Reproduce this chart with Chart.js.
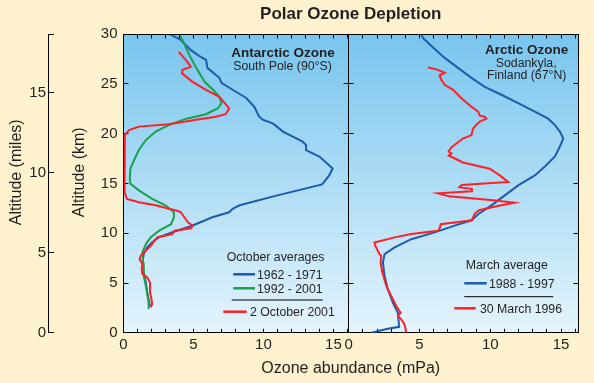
<!DOCTYPE html>
<html>
<head>
<meta charset="utf-8">
<script src="https://cdn.jsdelivr.net/npm/chart.js@4/dist/chart.umd.min.js"></script>
<style>
  html, body { margin: 0; padding: 0; background: #FDF1CE; }
  #wrap { width: 594px; height: 383px; position: relative; }
  canvas { display: block; }
</style>
</head>
<body>
<div id="wrap"><canvas id="chart" width="594" height="383"></canvas></div>
<script>
// ---------------- data ----------------
// Antarctic, South Pole: October average 1962-1971
const ANT_1962_OZONE = [3.3, 4.1, 4.8, 5.4, 5.9, 6.0, 6.85, 7.0, 7.8, 8.75, 9.35, 9.7, 9.95, 10.7, 11.4, 12.8, 13.05, 13.05, 14.0, 14.95, 14.7, 14.2, 11.0, 8.3, 7.8, 7.55, 6.35, 4.9, 3.5, 2.55, 2.05, 1.7, 1.45, 1.35, 1.45, 1.6, 1.7, 1.85, 1.9];
const ANT_1962_ALT   = [30, 29.4, 28.4, 27.8, 27.4, 26.6, 25.6, 25.1, 24.4, 23.6, 22.7, 21.7, 21.4, 21.0, 20.2, 19.2, 18.85, 18.35, 17.7, 16.5, 15.8, 14.9, 13.8, 12.8, 12.45, 12.1, 11.6, 10.75, 10.1, 9.6, 9.1, 8.57, 7.9, 7.05, 6.05, 5.04, 4.03, 3.0, 2.7];
// Antarctic: October average 1992-2001
const ANT_1992_OZONE = [3.95, 4.25, 4.7, 5.2, 5.8, 6.4, 6.85, 7.0, 6.75, 5.9, 4.5, 3.3, 2.3, 1.6, 1.1, 0.75, 0.5, 0.45, 0.5, 1.1, 2.05, 3.0, 3.6, 3.6, 3.4, 2.55, 1.95, 1.6, 1.35, 1.4, 1.45, 1.65, 1.8, 1.8];
const ANT_1992_ALT   = [30, 29.3, 27.9, 26.6, 25.2, 24.4, 23.7, 23.05, 22.55, 21.95, 21.5, 20.9, 20.2, 19.35, 18.35, 17.3, 16.5, 15.5, 14.96, 14.3, 13.45, 12.8, 12.1, 11.6, 10.9, 10.25, 9.6, 8.9, 8.06, 7.05, 5.7, 4.37, 3.0, 2.4];
// Antarctic: 2 October 2001
const ANT_2001_OZONE = [3.95, 4.45, 4.82, 4.22, 4.18, 4.94, 5.9, 6.85, 7.45, 7.55, 7.3, 6.6, 5.2, 3.25, 1.1, 0.4, 0.1, 0.08, 0.08, 0.08, 0.25, 1.1, 2.3, 3.25, 3.85, 4.1, 4.45, 4.6, 4.95, 4.85, 3.65, 3.5, 2.45, 2.2, 2.05, 1.6, 1.25, 1.15, 1.35, 1.3, 1.35, 1.7, 1.9, 1.9, 2.0, 2.05, 1.95];
const ANT_2001_ALT   = [28.2, 27.4, 26.7, 26.4, 26.05, 25.2, 24.4, 23.7, 22.7, 22.5, 21.95, 21.7, 21.4, 20.95, 20.7, 20.35, 19.85, 18.85, 15.5, 14.1, 13.45, 13.1, 12.8, 12.45, 12.25, 12.1, 11.4, 11.1, 10.75, 10.5, 10.25, 9.9, 9.6, 9.25, 8.9, 8.25, 7.75, 7.4, 6.9, 6.4, 5.9, 5.55, 5.05, 4.05, 3.4, 2.85, 2.55];
// Arctic, Sodankyla: March average 1988-1997
const ARC_AVG_OZONE = [5.13, 5.24, 5.84, 6.78, 7.72, 8.67, 9.61, 10.79, 11.97, 13.15, 14.09, 14.57, 14.92, 15.16, 14.92, 14.57, 13.86, 13.15, 11.97, 11.03, 10.08, 9.14, 8.67, 7.49, 6.07, 4.42, 3.24, 2.53, 2.41, 2.53, 2.76, 3.12, 3.47, 3.56, 2.76, 1.59];
const ARC_AVG_ALT   = [30, 29.6, 28.8, 27.6, 26.6, 25.6, 24.7, 23.9, 23.05, 22.2, 21.5, 20.85, 20.2, 19.5, 18.7, 17.7, 16.7, 15.8, 14.8, 13.8, 12.8, 11.9, 11.3, 10.76, 10.08, 9.4, 8.57, 7.9, 7.06, 5.72, 4.37, 3.0, 2.02, 0.6, 0.4, 0];
// Arctic: 30 March 1996
const ARC_1996_OZONE = [5.59, 6.30, 6.78, 6.42, 6.54, 6.78, 7.37, 7.96, 8.67, 9.14, 9.26, 9.61, 9.73, 9.26, 9.02, 8.78, 8.67, 8.07, 7.61, 7.25, 7.06, 7.25, 7.06, 8.07, 9.96, 10.67, 11.26, 8.0, 7.8, 8.7, 8.7, 6.3, 7.1, 10.2, 11.7, 10.6, 9.2, 8.9, 8.7, 7.6, 6.5, 6.4, 6.3, 4.42, 3.24, 1.82, 1.87, 2.17, 2.29, 2.25, 2.34, 2.65, 3.0, 3.36, 3.66, 3.47, 3.71, 3.94, 4.07];
const ARC_1996_ALT   = [26.65, 26.4, 26.1, 25.85, 25.4, 24.9, 24.4, 23.55, 22.7, 22.2, 21.8, 21.7, 21.5, 21.2, 20.9, 20.5, 19.85, 19.5, 19.0, 18.6, 18.2, 18.0, 17.8, 17.1, 16.47, 15.8, 15.15, 14.85, 14.6, 14.45, 14.2, 14.0, 13.7, 13.3, 13.05, 12.75, 12.3, 11.95, 11.3, 11.1, 10.9, 10.4, 10.25, 9.92, 9.58, 9.07, 8.74, 7.9, 7.73, 7.06, 6.22, 4.7, 3.7, 2.69, 2.02, 1.68, 1.35, 0.85, 0];

// ticks and labels
const X_TICK_VALUES  = [0, 1, 2, 3, 4, 5, 6, 7, 8, 9, 10, 11, 12, 13, 14, 15, 16];
const X_LABEL_VALUES = [0, 5, 10, 15];
const KM_TICK_VALUES = [0, 5, 10, 15, 20, 25, 30];
const MILE_TICK_VALUES = [0, 5, 10, 15];
const KM_PER_MILE = 1.609344;

// texts
const TITLE = 'Polar Ozone Depletion';
const X_TITLE = 'Ozone abundance (mPa)';
const Y_TITLE = 'Altitude (km)';
const Y2_TITLE = 'Altitude (miles)';
const SERIES_LABELS = ['1962 - 1971', '1992 - 2001', '2 October 2001', '1988 - 1997', '30 March 1996'];

// ---------------- styling ----------------
const FONT = "'Liberation Sans', Arial, Helvetica, sans-serif";
const TEXT = '#231F20';
const CREAM = '#FDF1CE';
const SKY_TOP = '#78C5EE';
const SKY_BOTTOM = '#E4F4FC';
const BLUE = '#1C5BAD';
const GREEN = '#17A04B';
const RED = '#FF1F26';
const XMAX_LEFT = 16.1;
const XMAX_RIGHT = 16.2;
const MILES_MAX = 30 / KM_PER_MILE;

Chart.defaults.font.family = FONT;
Chart.defaults.color = TEXT;

function pts(xs, ys) { return xs.map((x, i) => ({ x: x, y: ys[i] })); }
function series(label, xs, ys, color, xAxisID) {
  return { label, data: pts(xs, ys), xAxisID, yAxisID: 'y', borderColor: color, backgroundColor: color,
           borderWidth: 2, pointRadius: 0, showLine: true, tension: 0, fill: false };
}

const background = {
  id: 'panelBackground',
  beforeDraw(chart) {
    const { ctx, chartArea: a } = chart;
    ctx.save();
    ctx.fillStyle = CREAM;
    ctx.fillRect(0, 0, chart.width, chart.height);
    const g = ctx.createLinearGradient(0, a.top, 0, a.bottom);
    g.addColorStop(0, SKY_TOP);
    g.addColorStop(1, SKY_BOTTOM);
    ctx.fillStyle = g;
    ctx.fillRect(a.left, a.top, a.right - a.left, a.bottom - a.top);
    ctx.restore();
  }
};

const al = (p) => Math.round(p - 0.5) + 0.5;

const frame = {
  id: 'frameTicks',
  afterDatasetsDraw(chart) {
    const { ctx, chartArea: a, scales } = chart;
    ctx.save();
    ctx.strokeStyle = '#000';
    ctx.lineWidth = 1;
    ctx.beginPath();
    const top = al(a.top), right = al(a.right), div = al(scales.x2.left);
    ctx.moveTo(a.left, top); ctx.lineTo(a.right + 0.5, top);
    ctx.moveTo(right, a.top); ctx.lineTo(right, a.bottom);
    ctx.moveTo(div, a.top); ctx.lineTo(div, a.bottom);
    for (const id of ['x', 'x2']) {
      const s = scales[id];
      for (const v of X_TICK_VALUES) {
        if (v > s.max) continue;
        const px = al(s.getPixelForValue(v));
        ctx.moveTo(px, top); ctx.lineTo(px, top + 4);
      }
    }
    for (const v of KM_TICK_VALUES) {
      if (v === 0 || v === 30) continue;
      const py = al(scales.y.getPixelForValue(v));
      ctx.moveTo(div - 5, py); ctx.lineTo(div + 5, py);
      ctx.moveTo(right - 5, py); ctx.lineTo(right, py);
    }
    ctx.stroke();
    ctx.restore();
  }
};

const notes = {
  id: 'panelNotes',
  afterDatasetsDraw(chart) {
    const ctx = chart.ctx;
    ctx.save();
    ctx.fillStyle = TEXT;
    ctx.textBaseline = 'alphabetic';
    const text = (s, x, y, size, bold, align) => {
      ctx.font = (bold ? 'bold ' : '') + size + 'px ' + FONT;
      ctx.textAlign = align || 'left';
      ctx.fillText(s, x, y);
    };
    const line = (x1, x2, y, color, w) => {
      ctx.strokeStyle = color; ctx.lineWidth = w;
      ctx.beginPath(); ctx.moveTo(x1, y); ctx.lineTo(x2, y); ctx.stroke();
    };
    // Antarctic panel
    text('Antarctic Ozone', 283, 56.5, 13.5, true, 'center');
    text('South Pole (90°S)', 282.5, 69.5, 12.3, false, 'center');
    text('October averages', 226.7, 260.5, 12.3);
    line(233.3, 255, 274.3, BLUE, 2.5);
    text(SERIES_LABELS[0], 257, 279, 12.3);
    line(233.3, 255, 288.3, GREEN, 2.5);
    text(SERIES_LABELS[1], 257, 293.3, 12.3);
    line(231.7, 322.7, 300, '#000', 1);
    line(223.3, 246.7, 311.7, RED, 2.5);
    text(SERIES_LABELS[2], 250, 316, 12.3);
    // Arctic panel
    text('Arctic Ozone', 526.7, 54, 13.5, true, 'center');
    text('Sodankyla,', 526.2, 66.5, 12.3, false, 'center');
    text('Finland (67°N)', 526.7, 79, 12.3, false, 'center');
    text('March average', 465.7, 268.5, 12.3);
    line(464.3, 486.7, 283.3, BLUE, 2.5);
    text(SERIES_LABELS[3], 489, 287.5, 12.3);
    line(464.3, 553.3, 296.7, '#000', 1);
    line(454.3, 475.7, 308.3, RED, 2.5);
    text(SERIES_LABELS[4], 480, 313, 12.3);
    ctx.restore();
  }
};

function xAxis(max, weight) {
  return {
    type: 'linear', axis: 'x', position: 'bottom', stack: 'ozone', stackWeight: weight,
    min: 0, max: max,
    afterBuildTicks: (ax) => { ax.ticks = X_TICK_VALUES.filter(v => v <= max).map(v => ({ value: v })); },
    ticks: { font: { size: 15 }, color: TEXT, padding: 7.2, autoSkip: false, maxRotation: 0, minRotation: 0,
             callback: (v) => X_LABEL_VALUES.includes(v) ? String(v) : '' },
    grid: { drawOnChartArea: false, drawTicks: true, tickLength: -4, tickColor: '#000', tickWidth: 1 },
    border: { display: true, color: '#000', width: 1 }
  };
}

new Chart(document.getElementById('chart'), {
  type: 'scatter',
  data: {
    datasets: [
      series(SERIES_LABELS[2], ANT_2001_OZONE, ANT_2001_ALT, RED, 'x'),
      series(SERIES_LABELS[4], ARC_1996_OZONE, ARC_1996_ALT, RED, 'x2'),
      series(SERIES_LABELS[1], ANT_1992_OZONE, ANT_1992_ALT, GREEN, 'x'),
      series(SERIES_LABELS[0], ANT_1962_OZONE, ANT_1962_ALT, BLUE, 'x'),
      series(SERIES_LABELS[3], ARC_AVG_OZONE, ARC_AVG_ALT, BLUE, 'x2')
    ]
  },
  options: {
    responsive: false,
    animation: false,
    events: [],
    devicePixelRatio: 1,
    layout: { padding: { left: 0, right: 16, top: 0, bottom: 0 } },
    plugins: {
      legend: { display: false },
      tooltip: { enabled: false },
      title: { display: true, text: TITLE, fullSize: false, color: TEXT,
               font: { size: 17, weight: 'bold' }, padding: { top: 4.3, bottom: 9.3 } },
      subtitle: { display: true, text: X_TITLE, position: 'bottom', fullSize: false, color: TEXT,
                  font: { size: 16, weight: 'normal' }, padding: { top: -1.8, bottom: 4.4 } }
    },
    scales: {
      x: xAxis(XMAX_LEFT, 224.8),
      x2: xAxis(XMAX_RIGHT, 228.7),
      y: {
        type: 'linear', axis: 'y', position: 'left', weight: 0, min: 0, max: 30,
        afterBuildTicks: (ax) => { ax.ticks = KM_TICK_VALUES.map(v => ({ value: v })); },
        ticks: { font: { size: 15 }, color: TEXT, padding: 11 },
        grid: { drawOnChartArea: false, drawTicks: true, tickLength: -5, tickColor: '#000' },
        border: { display: true, color: '#000', width: 1 },
        title: { display: true, text: '     ' + Y_TITLE, color: TEXT, font: { size: 16 }, padding: { top: 20.7, bottom: 0.9 } }
      },
      ym: {
        type: 'linear', axis: 'y', position: 'left', weight: 1, min: 0, max: MILES_MAX,
        afterBuildTicks: (ax) => { ax.ticks = MILE_TICK_VALUES.map(v => ({ value: v })).concat([{ value: MILES_MAX }]); },
        ticks: { font: { size: 15 }, color: TEXT, padding: 8,
                 callback: (v) => MILE_TICK_VALUES.includes(v) ? String(v) : '' },
        grid: { drawOnChartArea: false, drawTicks: true, tickLength: -5, tickColor: '#000' },
        border: { display: true, color: '#000', width: 1 },
        title: { display: true, text: '     ' + Y2_TITLE, color: TEXT, font: { size: 16 }, padding: { top: 7, bottom: -4.9 } }
      }
    }
  },
  plugins: [background, frame, notes]
});
</script>
</body>
</html>
